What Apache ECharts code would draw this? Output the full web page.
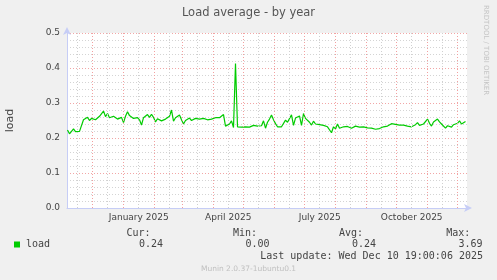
<!DOCTYPE html>
<html><head><meta charset="utf-8">
<script src="https://cdn.jsdelivr.net/npm/echarts@6/dist/echarts.min.js"></script>
<style>html,body{margin:0;padding:0;background:#f0f0f0}#c{width:497px;height:280px}</style>
</head><body><div id="c"></div>
<script>
// ---------- data ----------
const titleText = 'Load average - by year';
const seriesName = 'load';
const yAxisName = 'load';
const startTime = Date.UTC(2024, 10, 5, 19, 0, 6);   // 400 days before last update
const endTime = Date.UTC(2025, 11, 10, 19, 0, 6);
const stepDays = 2;
const loadValues = [
  0.223,0.212,0.209,0.226,0.218,0.222,0.219,0.223,0.252,0.255,
  0.259,0.25,0.256,0.261,0.252,0.25,0.262,0.258,0.277,0.261,
  0.27,0.258,0.254,0.262,0.257,0.254,0.25,0.259,0.244,0.262,
  0.275,0.264,0.262,0.256,0.26,0.258,0.252,0.237,0.258,0.262,
  0.267,0.259,0.268,0.259,0.246,0.255,0.252,0.249,0.246,0.254,
  0.257,0.262,0.28,0.248,0.258,0.262,0.266,0.252,0.24,0.25,
  0.254,0.257,0.25,0.253,0.256,0.251,0.254,0.252,0.256,0.255,
  0.252,0.257,0.254,0.259,0.258,0.261,0.258,0.262,0.267,0.234,
  0.232,0.24,0.249,0.23,0.413,0.232,0.233,0.231,0.236,0.232,
  0.234,0.231,0.229,0.236,0.232,0.234,0.234,0.235,0.249,0.228,
  0.245,0.254,0.266,0.252,0.241,0.232,0.231,0.232,0.233,0.251,
  0.245,0.24,0.266,0.236,0.257,0.262,0.263,0.236,0.27,0.256,
  0.254,0.245,0.237,0.248,0.24,0.243,0.238,0.24,0.236,0.234,
  0.232,0.228,0.215,0.232,0.226,0.24,0.228,0.23,0.232,0.229,
  0.233,0.23,0.228,0.231,0.234,0.229,0.231,0.227,0.232,0.233,
  0.229,0.23,0.228,0.226,0.225,0.228,0.227,0.23,0.232,0.231,
  0.234,0.238,0.241,0.236,0.239,0.235,0.237,0.232,0.237,0.24,
  0.234,0.238,0.232,0.236,0.238,0.244,0.236,0.238,0.24,0.243,
  0.254,0.242,0.234,0.246,0.241,0.254,0.246,0.24,0.237,0.228,
  0.235,0.24,0.231,0.238,0.236,0.242,0.249,0.24,0.244,0.247
];
const yMin = 0, yMax = 0.5, yStep = 0.1;
const monthStarts = ['2024-12-01','2025-01-01','2025-02-01','2025-03-01','2025-04-01','2025-05-01',
  '2025-06-01','2025-07-01','2025-08-01','2025-09-01','2025-10-01','2025-11-01','2025-12-01'];
const midMonthLines = ['2024-11-16','2024-12-16','2025-01-16','2025-02-16','2025-03-16','2025-04-16',
  '2025-05-16','2025-06-16','2025-07-16','2025-08-16','2025-09-16','2025-10-16','2025-11-16'];
const xLabelMonths = [['2025-01-01','2025-02-01'],['2025-04-01','2025-05-01'],['2025-07-01','2025-08-01'],['2025-10-01','2025-11-01']];
const xLabelTexts = ['January 2025','April 2025','July 2025','October 2025'];
const statHeaders = ['Cur:','Min:','Avg:','Max:'];
const statValues = ['0.24','0.00','0.24','3.69'];
const lastUpdate = 'Last update: Wed Dec 10 19:00:06 2025';
const footerText = 'Munin 2.0.37-1ubuntu0.1';
const creditText = 'RRDTOOL / TOBI OETIKER';

// ---------- build ----------
const DAY = 86400000;
const ts = s => Date.parse(s + 'T00:00:00Z');
const seriesData = loadValues.map((v, k) => [startTime + (0.5 + k * stepDays) * DAY, v]);
const labelPositions = xLabelMonths.map(p => (ts(p[0]) + ts(p[1])) / 2);

const mono = '"DejaVu Sans Mono", monospace';
const sans = '"DejaVu Sans", sans-serif';
const txtColor = '#444';
const axisColor = '#c6cdf6';

const headerX = [150.5, 257, 363, 470.3];
const valueX = [163, 269.5, 376, 482.5];
const graphics = [
  {type:'text', x:248.5, y:13.5, style:{text:titleText, font:'11.5px ' + sans, fill:'#555', align:'center', verticalAlign:'middle'}},
  {type:'text', x:486, y:5, rotation:-Math.PI/2, style:{text:creditText, font:'7px ' + sans, fill:'#c4c4c4', align:'left', verticalAlign:'middle'}},
  {type:'rect', shape:{x:14, y:241.5, width:6, height:6}, style:{fill:'#00cc00'}},
  {type:'text', x:26, y:244.5, style:{text:seriesName, font:'10px ' + mono, fill:txtColor, align:'left', verticalAlign:'middle'}},
  {type:'text', x:483, y:256.5, style:{text:lastUpdate, font:'10px ' + mono, fill:txtColor, align:'right', verticalAlign:'middle'}},
  {type:'text', x:248.5, y:269.5, style:{text:footerText, font:'7.5px ' + sans, fill:'#c0c0c0', align:'center', verticalAlign:'middle'}}
];
statHeaders.forEach((h, i) => {
  graphics.push({type:'text', x:headerX[i], y:233, style:{text:h, font:'10px ' + mono, fill:txtColor, align:'right', verticalAlign:'middle'}});
  graphics.push({type:'text', x:valueX[i], y:244.5, style:{text:statValues[i], font:'10px ' + mono, fill:txtColor, align:'right', verticalAlign:'middle'}});
});

const vLine = (list, color) => list.map(d => ({xAxis: ts(d), lineStyle:{color, type:[1,2], width:1}}));

const chart = echarts.init(document.getElementById('c'), null, {renderer:'canvas'});
chart.setOption({
  animation: false,
  backgroundColor: '#f0f0f0',
  grid: {left:67, right:30, top:33, bottom:72, containLabel:false, outerBoundsMode:'none',
         show:true, backgroundColor:'#ffffff', borderWidth:0},
  xAxis: {
    type:'value', min:startTime, max:endTime,
    axisLine:{show:true, lineStyle:{color:axisColor, width:1}, symbol:['none','arrow'], symbolSize:[6,8], symbolOffset:[0,5]},
    axisTick:{show:false},
    splitLine:{show:false},
    axisLabel:{show:true, customValues:labelPositions, color:txtColor, fontSize:9, fontFamily:sans, margin:5,
      formatter:(v) => { const i = labelPositions.indexOf(v); return i >= 0 ? xLabelTexts[i] : ''; }}
  },
  yAxis: {
    type:'value', min:yMin, max:yMax, interval:yStep,
    name:yAxisName, nameLocation:'middle', nameRotate:90, nameGap:51,
    nameTextStyle:{color:txtColor, fontSize:11, fontFamily:sans},
    axisLine:{show:true, lineStyle:{color:axisColor, width:1}, symbol:['none','arrow'], symbolSize:[6,8], symbolOffset:[0,6]},
    axisTick:{show:false},
    axisLabel:{color:txtColor, fontSize:9, fontFamily:sans, margin:7, formatter:v => v.toFixed(1)},
    splitLine:{show:true, lineStyle:{color:'#f2a6a6', type:[1,2], width:1}},
    minorTick:{show:false, splitNumber:5},
    minorSplitLine:{show:true, lineStyle:{color:'#d4d4d4', type:[1,2], width:1}}
  },
  graphic: graphics,
  series: [
    {type:'line', name:'grid', data:[[startTime, null]], z:1, silent:true, symbol:'none',
     markLine:{silent:true, symbol:'none', animation:false, label:{show:false},
       data: vLine(midMonthLines, '#d0d0d0').concat(vLine(monthStarts, '#f2a0a0'))}},
    {type:'line', name:seriesName, data:seriesData, z:3, symbol:'none', showSymbol:false,
     lineStyle:{color:'#00cc00', width:1.2}, itemStyle:{color:'#00cc00'}}
  ]
});
</script>
</body></html>
